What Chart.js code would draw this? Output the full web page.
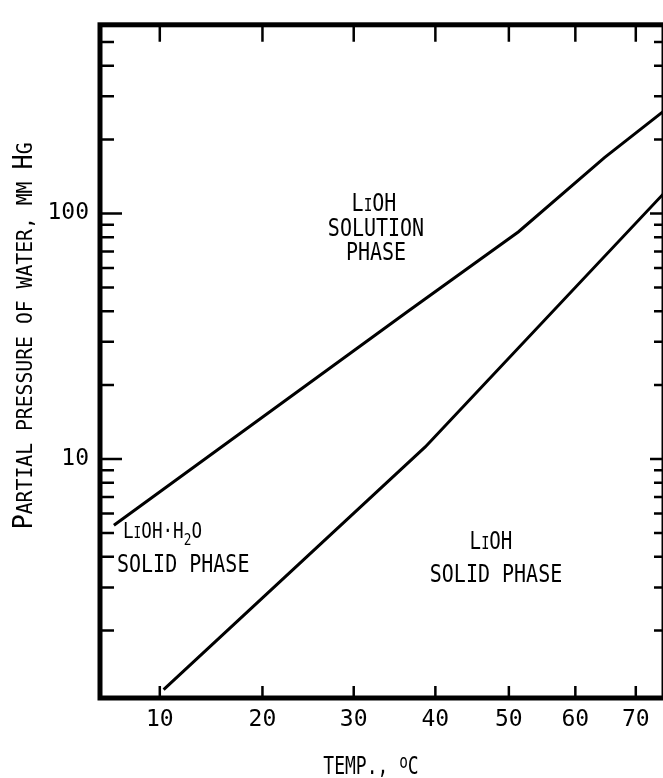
<!DOCTYPE html>
<html>
<head>
<meta charset="utf-8">
<script src="https://cdn.jsdelivr.net/npm/chart.js@4/dist/chart.umd.min.js"></script>
<style>
html, body { margin: 0; padding: 0; background: #fff; overflow: hidden; }
</style>
</head>
<body>
<canvas id="myChart" width="670" height="778"></canvas>
<script>
// eixo x: temperatura em oC, eixo y: pressao parcial em mm Hg (log)
var tempTicks = [10, 20, 30, 40, 50, 60, 70];
var pressLabels = [10, 100];
var pressMinor = [2, 3, 4, 5, 6, 7, 8, 9, 20, 30, 40, 50, 60, 70, 80, 90, 200, 300, 400, 500];

// LiOH solucao / LiOH.H2O
var solucaoTemp = [5.9, 36.4, 51.4, 64.7, 75];
var solucaoPress = [5.37, 39.7, 84.3, 169, 262];

// LiOH.H2O / LiOH solido
var solidoTemp = [10.35, 38.7, 75];
var solidoPress = [1.15, 11.2, 121];

var FONTE = "'DejaVu Sans Mono', 'Liberation Mono', monospace";
var OFFSET = 150;

// escala do eixo x do grafico original (comprimida para a direita)
class ReciprocalScale extends Chart.LinearScale {
    _tr(v) { return -1 / (v + OFFSET); }
    getPixelForValue(value) {
        var a = this._tr(this.min), b = this._tr(this.max);
        return this.getPixelForDecimal((this._tr(value) - a) / (b - a));
    }
    getValueForPixel(pixel) {
        var a = this._tr(this.min), b = this._tr(this.max);
        var t = a + this.getDecimalForPixel(pixel) * (b - a);
        return -1 / t - OFFSET;
    }
}
ReciprocalScale.id = 'reciprocal';
ReciprocalScale.defaults = {};
Chart.register(ReciprocalScale);

function pontos(xs, ys) {
    var out = [];
    for (var i = 0; i < xs.length; i++) out.push({ x: xs[i], y: ys[i] });
    return out;
}

// texto com letras de tamanhos diferentes (versalete, subscrito)
function versalete(txt, grande, pequeno) {
    var partes = [];
    for (var i = 0; i < txt.length; i++) {
        var c = txt[i];
        if (c >= 'A' && c <= 'Z') partes.push({ t: c, s: grande });
        else partes.push({ t: c.toUpperCase(), s: pequeno });
    }
    return partes;
}

function escreve(ctx, partes, x, y, alinha, sx) {
    var w = 0;
    partes.forEach(function (p) {
        ctx.font = p.s + 'px ' + FONTE;
        p.w = ctx.measureText(p.t).width;
        w += p.w;
    });
    var x0 = x;
    if (alinha === 'center') x0 = x - w * sx / 2;
    ctx.save();
    ctx.translate(x0, y);
    ctx.scale(sx, 1);
    var cx = 0;
    partes.forEach(function (p) {
        ctx.font = p.s + 'px ' + FONTE;
        ctx.fillText(p.t, cx, p.dy || 0);
        cx += p.w;
    });
    ctx.restore();
}

var moldura = {
    id: 'moldura',
    afterDraw: function (chart) {
        var ctx = chart.ctx, a = chart.chartArea;
        var xs = chart.scales.x, ys = chart.scales.y;
        ctx.save();
        ctx.strokeStyle = '#000';
        ctx.fillStyle = '#000';
        ctx.lineWidth = 2.5;
        ctx.beginPath();
        tempTicks.forEach(function (v) {
            var px = xs.getPixelForValue(v);
            ctx.moveTo(px, a.bottom); ctx.lineTo(px, a.bottom - 12);
            ctx.moveTo(px, a.top); ctx.lineTo(px, a.top + 17);
        });
        pressLabels.forEach(function (v) {
            var py = ys.getPixelForValue(v);
            ctx.moveTo(a.left, py); ctx.lineTo(a.left + 22, py);
            ctx.moveTo(a.right, py); ctx.lineTo(a.right - 14, py);
        });
        pressMinor.forEach(function (v) {
            var py = ys.getPixelForValue(v);
            ctx.moveTo(a.left, py); ctx.lineTo(a.left + 14, py);
            ctx.moveTo(a.right, py); ctx.lineTo(a.right - 10, py);
        });
        ctx.stroke();

        ctx.lineWidth = 5;
        ctx.strokeRect(a.left, a.top, a.right - a.left, a.bottom - a.top);

        ctx.textBaseline = 'alphabetic';
        // titulo do eixo y
        ctx.save();
        ctx.translate(32, 336);
        ctx.rotate(-Math.PI / 2);
        escreve(ctx, versalete('Partial pressure of water, mm Hg', 27, 21), 0, 0, 'center', 0.94);
        ctx.restore();

        // titulo do eixo x
        escreve(ctx, [
            { t: 'TEMP., ', s: 25 },
            { t: 'o', s: 20, dy: -6 },
            { t: 'C', s: 25 }
        ], 371, 774, 'center', 0.72);

        // regioes
        escreve(ctx, versalete('LiOH', 25, 18), 374, 211, 'center', 0.8);
        escreve(ctx, versalete('SOLUTION', 25, 25), 376, 236, 'center', 0.8);
        escreve(ctx, versalete('PHASE', 25, 25), 376, 260, 'center', 0.8);

        escreve(ctx, [
            { t: 'L', s: 22 }, { t: 'I', s: 16 }, { t: 'OH\u00b7H', s: 22 },
            { t: '2', s: 16, dy: 7 }, { t: 'O', s: 22 }
        ], 123, 538, 'left', 0.8);
        escreve(ctx, versalete('SOLID PHASE', 25, 25), 117, 572, 'left', 0.8);

        escreve(ctx, versalete('LiOH', 24, 17), 491, 549, 'center', 0.8);
        escreve(ctx, versalete('SOLID PHASE', 25, 25), 496, 582, 'center', 0.8);
        ctx.restore();
    }
};

var ctx = document.getElementById('myChart');
var myChart = new Chart(ctx, {
    type: 'scatter',
    data: {
        datasets: [{
            label: 'LiOH solution / LiOH.H2O',
            data: pontos(solucaoTemp, solucaoPress),
            showLine: true,
            borderColor: '#000',
            borderWidth: 3,
            pointRadius: 0,
            tension: 0
        }, {
            label: 'LiOH.H2O / LiOH',
            data: pontos(solidoTemp, solidoPress),
            showLine: true,
            borderColor: '#000',
            borderWidth: 3,
            pointRadius: 0,
            tension: 0
        }]
    },
    options: {
        responsive: false,
        animation: false,
        layout: { padding: { top: 22, right: 6, left: 0, bottom: 0 } },
        plugins: { legend: { display: false }, tooltip: { enabled: false } },
        scales: {
            x: {
                type: 'reciprocal',
                min: 4.7,
                max: 75,
                grid: { display: false, drawTicks: false },
                border: { display: false },
                ticks: {
                    color: '#000',
                    padding: 8,
                    autoSkip: false,
                    maxRotation: 0,
                    font: { family: FONTE, size: 23 }
                },
                afterBuildTicks: function (s) {
                    s.ticks = tempTicks.map(function (v) { return { value: v }; });
                },
                afterFit: function (s) { s.height = 80; }
            },
            y: {
                type: 'logarithmic',
                min: 1.063,
                max: 587,
                grid: { display: false, drawTicks: false },
                border: { display: false },
                ticks: {
                    color: '#000',
                    padding: 11,
                    autoSkip: false,
                    font: { family: FONTE, size: 23 },
                    callback: function (v) { return String(v); }
                },
                afterBuildTicks: function (s) {
                    s.ticks = pressLabels.map(function (v) { return { value: v }; });
                },
                afterFit: function (s) { s.width = 100; }
            }
        }
    },
    plugins: [moldura]
});
</script>
</body>
</html>
